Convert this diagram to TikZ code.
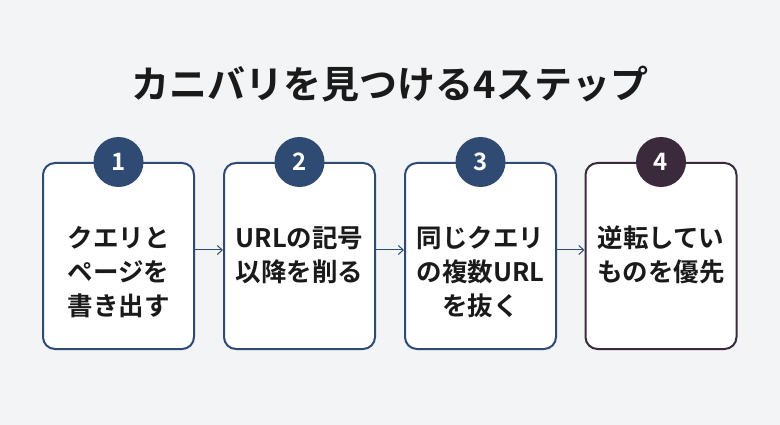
\documentclass[tikz,border=0pt]{standalone}
\usepackage{fontspec}
\newfontfamily\cjk{Noto Sans CJK JP Bold}
\usetikzlibrary{positioning,arrows.meta}
\definecolor{bgc}{HTML}{F3F4F6}
\definecolor{navy}{HTML}{2F4B73}
\definecolor{plum}{HTML}{3B2A3B}
\definecolor{ink}{HTML}{1A1A1A}
\tikzset{
  step/.style={draw=#1,line width=2pt,fill=white,rounded corners=12pt,minimum width=151pt,minimum height=186pt,inner sep=0pt},
  badge/.style={circle,fill=#1,minimum size=50pt,inner sep=0pt,text=white,font=\cjk\fontsize{24}{24}\selectfont},
  txt/.style={text=ink,align=center,font=\cjk\fontsize{25.5}{34}\selectfont},
  link/.style={draw=navy,line width=1pt,-{Straight Barb[length=5pt,width=9pt]}}
}
\begin{document}
\begin{tikzpicture}[x=1pt,y=-1pt]
\fill[bgc] (0,0) rectangle (780,425);
\useasboundingbox (0,0) rectangle (780,425);
\node[font=\cjk\fontsize{38}{38}\selectfont,text=ink] (title) at (390,84) {カニバリを見つける4ステップ};
\node[step=navy] (s1) at (118.5,256) {};
\node[step=navy] (s2) at (299.5,256) {};
\node[step=navy] (s3) at (480.5,256) {};
\node[step=plum] (s4) at (661,256) {};
\node[badge=navy] (b1) at (s1.north) {1};
\node[badge=navy] (b2) at (s2.north) {2};
\node[badge=navy] (b3) at (s3.north) {3};
\node[badge=plum] (b4) at (s4.north) {4};
\node[txt] (t1) at (118.5,272) {クエリと\\ページを\\書き出す};
\node[txt] (t2) at (299.5,255) {URLの記号\\以降を削る};
\node[txt] (t3) at (480.5,272) {同じクエリ\\の複数URL\\を抜く};
\node[txt] (t4) at (661,255) {逆転してい\\ものを優先};
\draw[link] (s1.east |- 0,250) -- (s2.west |- 0,250);
\draw[link] (s2.east |- 0,250) -- (s3.west |- 0,250);
\draw[link] (s3.east |- 0,250) -- (s4.west |- 0,250);
\end{tikzpicture}
\end{document}
